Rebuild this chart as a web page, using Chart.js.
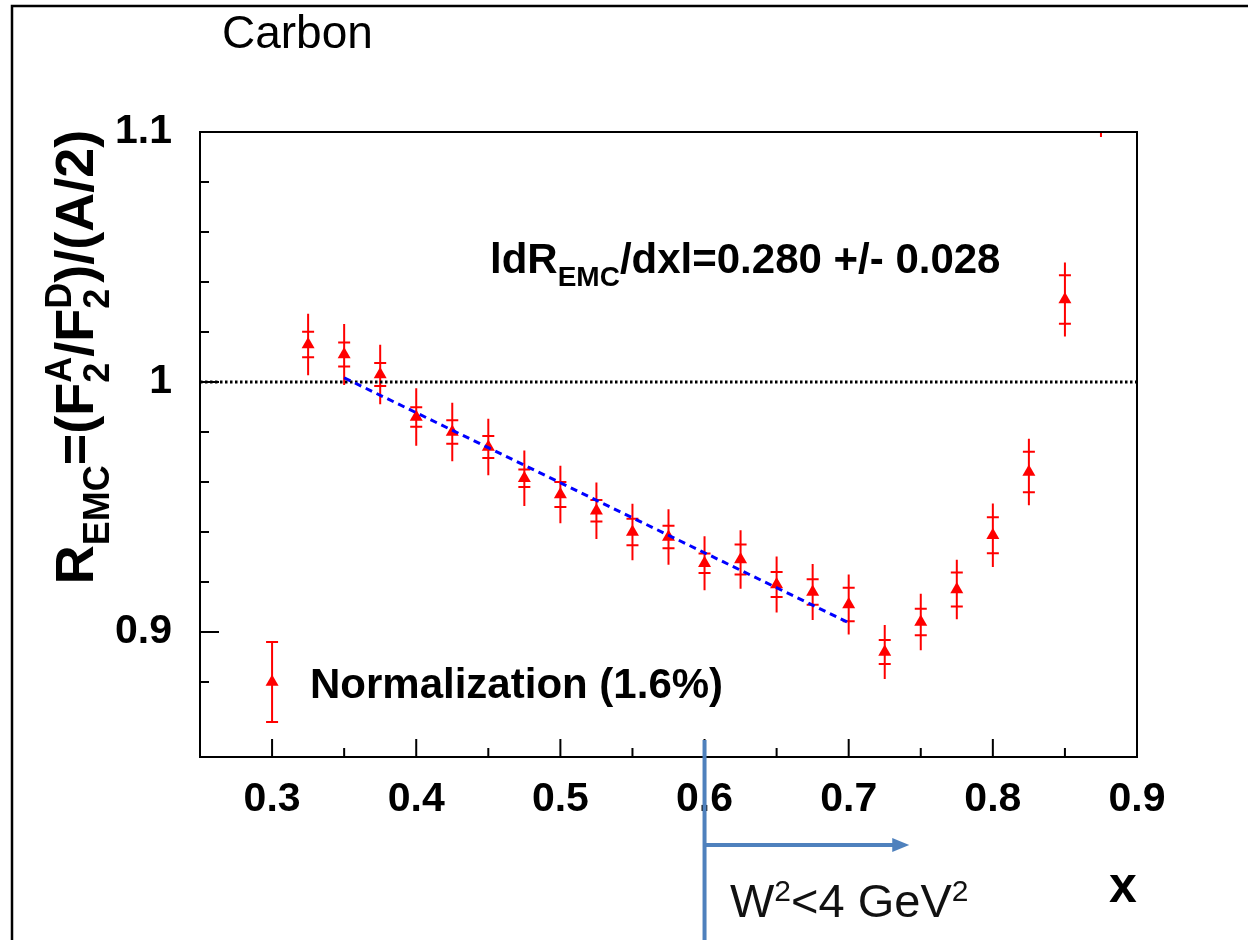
<!DOCTYPE html>
<html>
<head>
<meta charset="UTF-8">
<title>Carbon EMC ratio</title>
<script src="https://cdn.jsdelivr.net/npm/chart.js"></script>
<style>
  body { margin: 0; background: #fff; }
  #wrap { width: 1248px; height: 940px; }
</style>
</head>
<body>
<div id="wrap"><canvas id="emc" width="1248" height="940"></canvas></div>
<script>
// values
const xBins   = [0.325, 0.35, 0.375, 0.4, 0.425, 0.45, 0.475, 0.5, 0.525, 0.55, 0.575, 0.6, 0.625, 0.65, 0.675, 0.7, 0.725, 0.75, 0.775, 0.8, 0.825, 0.85, 0.875];
const ratio   = [1.015, 1.011, 1.003, 0.986, 0.980, 0.974, 0.9615, 0.955, 0.9485, 0.940, 0.938, 0.9275, 0.929, 0.919, 0.916, 0.911, 0.892, 0.904, 0.917, 0.9387, 0.964, 1.033, 1.118];
const statErr = [0.0051, 0.0048, 0.0046, 0.0039, 0.0047, 0.0044, 0.0035, 0.0050, 0.0043, 0.0053, 0.0045, 0.0039, 0.0060, 0.0050, 0.0051, 0.0067, 0.0048, 0.0053, 0.0068, 0.0072, 0.0081, 0.0097, 0.0120];
const totErr  = [0.0123, 0.0122, 0.0119, 0.0115, 0.0117, 0.0113, 0.0111, 0.0115, 0.0113, 0.0113, 0.0111, 0.0108, 0.0117, 0.0112, 0.0112, 0.0120, 0.0108, 0.0113, 0.0119, 0.0127, 0.0133, 0.0148, 0.0200];

// linear fit |dR/dx| over 0.35 < x < 0.7
const fitX = [0.35, 0.7];
const fitY = [1.0017, 0.9037];

// unity reference line
const unityX = [0.25, 0.9];
const unityY = [1, 1];

// normalization uncertainty marker
const normX = [0.3];
const normY = [0.88];
const normErr = [0.016];

// axis labels
const xMajor = [0.3, 0.4, 0.5, 0.6, 0.7, 0.8, 0.9];
const yMajor = [0.9, 1.0, 1.1];
const yMajorLabels = ['0.9', '1', '1.1'];

const RED = '#ff0000';
const BLUE = '#4f81bd';
const FONT = '"Liberation Sans", Arial, Helvetica, sans-serif';

const pts = (xs, ys) => xs.map((v, i) => ({ x: v, y: ys[i] }));
const near = (a, b) => Math.abs(a - b) < 1e-6;

// error bars: total error as the line, stat error as small crossbars
const errorBars = {
  id: 'errorBars',
  beforeDatasetsDraw(chart) {
    const { ctx, chartArea: a, scales: { x, y } } = chart;
    ctx.save();
    ctx.beginPath();
    ctx.rect(a.left, a.top, a.right - a.left, a.bottom - a.top);
    ctx.clip();
    ctx.strokeStyle = RED;
    ctx.lineWidth = 2;
    xBins.forEach((xv, i) => {
      const px = x.getPixelForValue(xv);
      ctx.beginPath();
      ctx.moveTo(px, y.getPixelForValue(ratio[i] - totErr[i]));
      ctx.lineTo(px, y.getPixelForValue(ratio[i] + totErr[i]));
      [ratio[i] - statErr[i], ratio[i] + statErr[i]].forEach(v => {
        const py = y.getPixelForValue(v);
        ctx.moveTo(px - 6, py);
        ctx.lineTo(px + 6, py);
      });
      ctx.stroke();
    });
    normX.forEach((xv, i) => {
      const px = x.getPixelForValue(xv);
      const lo = y.getPixelForValue(normY[i] - normErr[i]);
      const hi = y.getPixelForValue(normY[i] + normErr[i]);
      ctx.beginPath();
      ctx.moveTo(px, lo); ctx.lineTo(px, hi);
      ctx.moveTo(px - 6, lo); ctx.lineTo(px + 6, lo);
      ctx.moveTo(px - 6, hi); ctx.lineTo(px + 6, hi);
      ctx.stroke();
    });
    ctx.restore();
  }
};

// frame box and inward ticks, ROOT style
const frame = {
  id: 'frame',
  afterDatasetsDraw(chart) {
    const { ctx, chartArea: a, scales: { x, y } } = chart;
    ctx.save();
    ctx.strokeStyle = '#000';
    ctx.lineWidth = 2;
    ctx.strokeRect(a.left, a.top, a.right - a.left, a.bottom - a.top);
    ctx.beginPath();
    x.ticks.forEach(t => {
      const px = x.getPixelForValue(t.value);
      const len = xMajor.some(m => near(m, t.value)) ? 18 : 9;
      ctx.moveTo(px, a.bottom);
      ctx.lineTo(px, a.bottom - len);
    });
    y.ticks.forEach(t => {
      const py = y.getPixelForValue(t.value);
      const len = yMajor.some(m => near(m, t.value)) ? 19 : 9;
      ctx.moveTo(a.left, py);
      ctx.lineTo(a.left + len, py);
    });
    ctx.stroke();
    ctx.restore();
  }
};

// text with sub/superscripts
function drawRich(ctx, parts, x, y, weight) {
  let cx = x;
  parts.forEach(p => {
    ctx.font = weight + ' ' + p.s + 'px ' + FONT;
    if (p.stack) {
      const wa = ctx.measureText(p.sup).width, wb = ctx.measureText(p.sub).width;
      ctx.fillText(p.sup, cx, y + p.up);
      ctx.fillText(p.sub, cx, y + p.down);
      cx += Math.max(wa, wb);
    } else {
      ctx.fillText(p.t, cx, y + (p.dy || 0));
      cx += ctx.measureText(p.t).width;
    }
  });
  return cx - x;
}
function richWidth(ctx, parts, weight) {
  let w = 0;
  parts.forEach(p => {
    ctx.font = weight + ' ' + p.s + 'px ' + FONT;
    w += p.stack ? Math.max(ctx.measureText(p.sup).width, ctx.measureText(p.sub).width) : ctx.measureText(p.t).width;
  });
  return w;
}

const labels = {
  id: 'labels',
  afterDraw(chart) {
    const { ctx, scales: { x } } = chart;
    ctx.save();
    ctx.fillStyle = '#000';
    ctx.textBaseline = 'alphabetic';
    ctx.textAlign = 'left';

    // page frame
    ctx.strokeStyle = '#000';
    ctx.lineWidth = 2.5;
    ctx.beginPath();
    ctx.moveTo(12, 940); ctx.lineTo(12, 6); ctx.lineTo(1248, 6);
    ctx.stroke();

    ctx.font = '46px ' + FONT;
    ctx.fillText('Carbon', 222, 48);

    drawRich(ctx, [
      { t: 'ldR', s: 42 },
      { t: 'EMC', s: 28, dy: 13 },
      { t: '/dxl=0.280 +/- 0.028', s: 42 }
    ], 490, 273, 'bold');

    ctx.font = 'bold 42px ' + FONT;
    ctx.fillText('Normalization (1.6%)', 310, 698);

    ctx.font = 'bold 50px ' + FONT;
    ctx.textAlign = 'center';
    ctx.fillText('x', 1123, 902);
    ctx.textAlign = 'left';

    // y axis title, rotated
    const F = 54, S = 36;
    const yt = [
      { t: 'R', s: F },
      { t: 'EMC', s: S, dy: 16 },
      { t: '=(F', s: F },
      { stack: true, sup: 'A', sub: '2', s: S, up: -22, down: 16 },
      { t: '/F', s: F },
      { stack: true, sup: 'D', sub: '2', s: S, up: -22, down: 16 },
      { t: ')/(A/2)', s: F }
    ];
    const w = richWidth(ctx, yt, 'bold');
    ctx.translate(93, 357);
    ctx.rotate(-Math.PI / 2);
    drawRich(ctx, yt, -w / 2, 0, 'bold');
    ctx.setTransform(1, 0, 0, 1, 0, 0);

    // W^2 < 4 GeV^2 marker
    const px = x.getPixelForValue(0.6);
    const tip = x.getPixelForValue(0.742);
    ctx.strokeStyle = BLUE;
    ctx.fillStyle = BLUE;
    ctx.lineWidth = 4;
    ctx.beginPath();
    ctx.moveTo(px, 740); ctx.lineTo(px, 940);
    ctx.moveTo(px, 845); ctx.lineTo(tip - 14, 845);
    ctx.stroke();
    ctx.beginPath();
    ctx.moveTo(tip, 845); ctx.lineTo(tip - 17, 838); ctx.lineTo(tip - 17, 852);
    ctx.closePath();
    ctx.fill();

    ctx.fillStyle = '#111';
    drawRich(ctx, [
      { t: 'W', s: 47 },
      { t: '2', s: 30, dy: -16 },
      { t: '<4 GeV', s: 47 },
      { t: '2', s: 30, dy: -16 }
    ], 730, 917, 'normal');
    ctx.restore();
  }
};

const tickFont = { family: FONT, size: 41, weight: 'bold' };

new Chart(document.getElementById('emc'), {
  type: 'scatter',
  data: {
    datasets: [
      { label: 'fit', data: pts(fitX, fitY), showLine: true, borderColor: '#0000ff', borderWidth: 3, borderDash: [7, 5], pointRadius: 0, order: 1 },
      { label: 'Carbon', data: pts(xBins, ratio), pointStyle: 'triangle', pointRadius: 7.5, backgroundColor: RED, borderColor: RED, borderWidth: 0, order: 2 },
      { label: 'Normalization', data: pts(normX, normY), pointStyle: 'triangle', pointRadius: 7.5, backgroundColor: RED, borderColor: RED, borderWidth: 0, order: 2 },
      { label: 'unity', data: pts(unityX, unityY), showLine: true, borderColor: '#000', borderWidth: 3, borderDash: [2.5, 2.5], pointRadius: 0, order: 3 }
    ]
  },
  options: {
    responsive: false,
    animation: false,
    events: [],
    layout: { padding: { top: 132, right: 111, left: 0, bottom: 0 } },
    plugins: { legend: { display: false }, tooltip: { enabled: false } },
    scales: {
      x: {
        type: 'linear', min: 0.25, max: 0.9,
        grid: { display: false, drawTicks: false },
        border: { display: false },
        ticks: {
          stepSize: 0.05, autoSkip: false, maxRotation: 0, padding: 18,
          color: '#000', font: tickFont,
          callback: v => xMajor.some(m => near(m, v)) ? v.toFixed(1) : ''
        },
        afterFit: s => { s.height = 183; }
      },
      y: {
        type: 'linear', min: 0.85, max: 1.1,
        grid: { display: false, drawTicks: false },
        border: { display: false },
        ticks: {
          stepSize: 0.02, autoSkip: false, padding: 28,
          color: '#000', font: tickFont,
          callback: v => {
            const k = yMajor.findIndex(m => near(m, v));
            return k >= 0 ? yMajorLabels[k] : '';
          }
        },
        afterFit: s => { s.width = 200; }
      }
    }
  },
  plugins: [errorBars, frame, labels]
});
</script>
</body>
</html>
